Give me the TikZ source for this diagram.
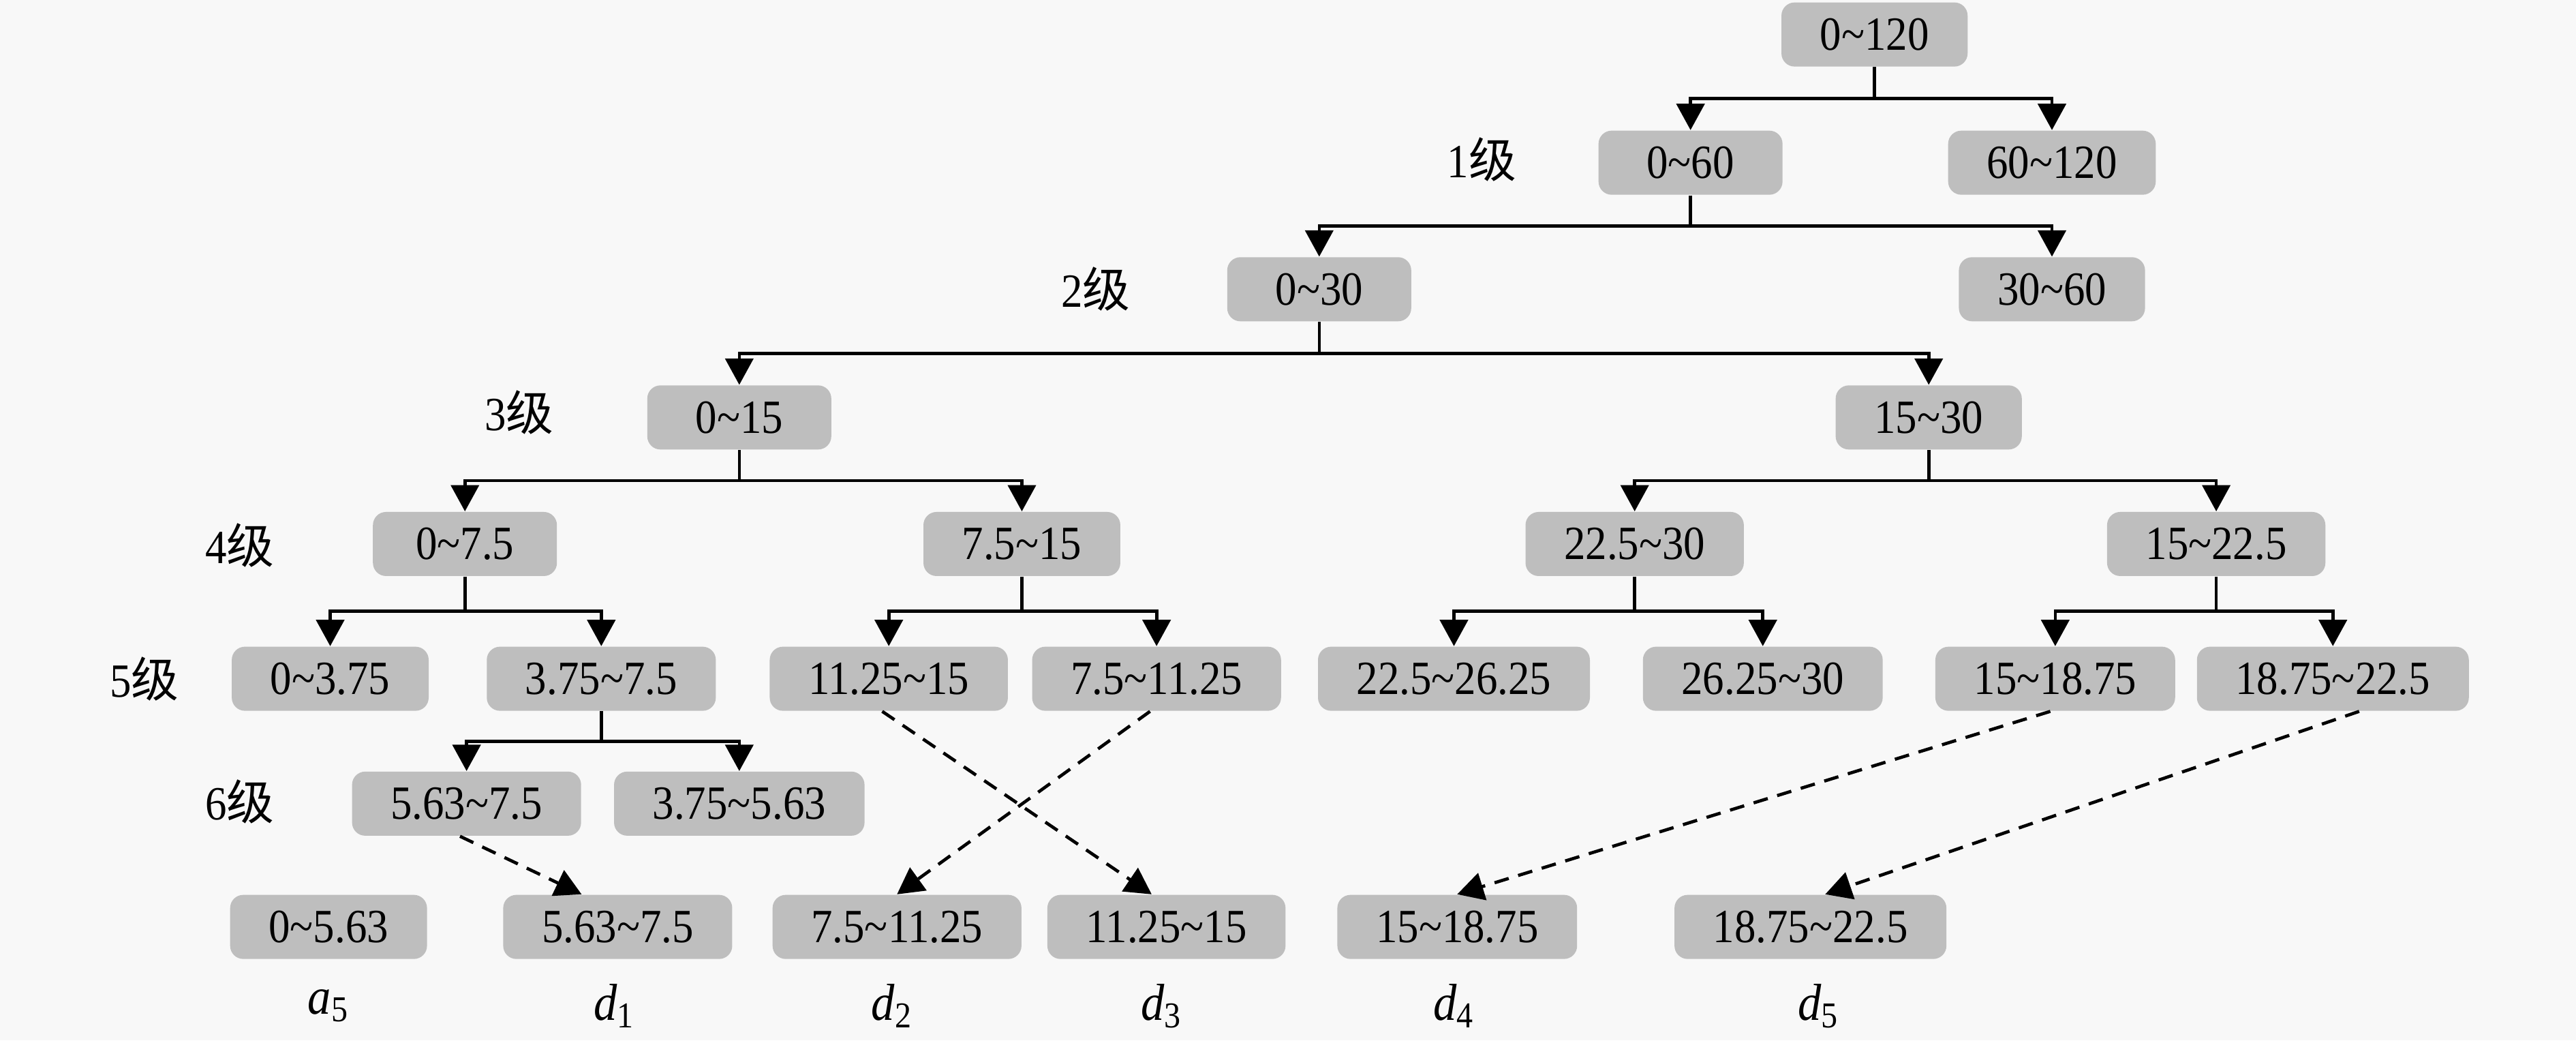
\documentclass[tikz,border=0pt]{standalone}
\usepackage{fontspec}
\setmainfont[FakeStretch=0.9]{Liberation Serif}
\newfontfamily\cjk{Noto Sans CJK SC}
\usepackage{tikz}
\usetikzlibrary{arrows.meta,calc,positioning}
\definecolor{bggray}{RGB}{248,248,248}
\definecolor{boxgray}{RGB}{190,190,190}
\newcommand{\tld}{\textasciitilde}

\begin{document}
\begin{tikzpicture}[
  font=\fontsize{16.5}{19}\selectfont,
  box/.style={fill=boxgray, rounded corners=0.16cm, minimum width=2.24cm,
    minimum height=0.78cm, inner xsep=0.47cm, inner ysep=0pt},
  lvl/.style={inner sep=0pt},
  sym/.style={font=\fontsize{18}{20}\selectfont},
  arr/.style={-{Triangle[length=0.32cm,width=0.34cm]}, line width=1.1pt},
  dsh/.style={arr, dash pattern=on 0.18cm off 0.12cm}
]
\fill[bggray] (0,0) rectangle (31.36,12.66);
\useasboundingbox (0,0) rectangle (31.36,12.66);

\node[box] (L0)  at (22.82,12.24) {0\tld120};
\node[box] (L1a) at (20.58,10.68) {0\tld60};
\node[box] (L1b) at (24.98,10.68) {60\tld120};
\node[box] (L2a) at (16.06,9.14) {0\tld30};
\node[box] (L2b) at (24.98,9.14) {30\tld60};
\node[box] (L3a) at (9.00,7.58) {0\tld15};
\node[box] (L3b) at (23.48,7.58) {15\tld30};
\node[box] (L4a) at (5.66,6.04) {0\tld7.5};
\node[box] (L4b) at (12.44,6.04) {7.5\tld15};
\node[box] (L4c) at (19.90,6.04) {22.5\tld30};
\node[box] (L4d) at (26.98,6.04) {15\tld22.5};
\node[box] (L5a) at (4.02,4.40) {0\tld3.75};
\node[box] (L5b) at (7.32,4.40) {3.75\tld7.5};
\node[box] (L5c) at (10.82,4.40) {11.25\tld15};
\node[box] (L5d) at (14.08,4.40) {7.5\tld11.25};
\node[box] (L5e) at (17.70,4.40) {22.5\tld26.25};
\node[box] (L5f) at (21.46,4.40) {26.25\tld30};
\node[box] (L5g) at (25.02,4.40) {15\tld18.75};
\node[box] (L5h) at (28.40,4.40) {18.75\tld22.5};
\node[box] (L6a) at (5.68,2.88) {5.63\tld7.5};
\node[box] (L6b) at (9.00,2.88) {3.75\tld5.63};
\node[box] (R0) at (4.00,1.38) {0\tld5.63};
\node[box] (R1) at (7.52,1.38) {5.63\tld7.5};
\node[box] (R2) at (10.92,1.38) {7.5\tld11.25};
\node[box] (R3) at (14.20,1.38) {11.25\tld15};
\node[box] (R4) at (17.74,1.38) {15\tld18.75};
\node[box] (R5) at (22.04,1.38) {18.75\tld22.5};

\node[lvl] (lv1) at (18.04,10.72) {1{\cjk 级}};
\node[lvl] (lv2) at (13.34,9.14) {2{\cjk 级}};
\node[lvl] (lv3) at (6.32,7.64) {3{\cjk 级}};
\node[lvl] (lv4) at (2.92,6.02) {4{\cjk 级}};
\node[lvl] (lv5) at (1.76,4.40) {5{\cjk 级}};
\node[lvl] (lv6) at (2.92,2.90) {6{\cjk 级}};

\node[sym] (la5) at (4.00,0.42) {\textit{a}\textsubscript{5}};
\node[sym] (ld1) at (7.48,0.42) {\textit{d}\textsubscript{1}};
\node[sym] (ld2) at (10.86,0.42) {\textit{d}\textsubscript{2}};
\node[sym] (ld3) at (14.14,0.42) {\textit{d}\textsubscript{3}};
\node[sym] (ld4) at (17.70,0.42) {\textit{d}\textsubscript{4}};
\node[sym] (ld5) at (22.14,0.42) {\textit{d}\textsubscript{5}};

\foreach \p/\c in {L0/L1a, L0/L1b, L1a/L2a, L1a/L2b, L2a/L3a, L2a/L3b,
    L3a/L4a, L3a/L4b, L3b/L4c, L3b/L4d, L4a/L5a, L4a/L5b, L4b/L5c, L4b/L5d,
    L4c/L5e, L4c/L5f, L4d/L5g, L4d/L5h, L5b/L6a, L5b/L6b}
  \draw[arr] (\p.south) |- ($(\p.south)!.5!(\c.north)$) -| (\c.north);

\draw[dsh] ([xshift=-0.08cm]L6a.south) -- ([xshift=-0.44cm]R1.north);
\draw[dsh] ([xshift=-0.08cm]L5c.south) -- ([xshift=-0.18cm]R3.north);
\draw[dsh] ([xshift=-0.08cm]L5d.south) -- (R2.north);
\draw[dsh] ([xshift=-0.06cm]L5g.south) -- (R4.north);
\draw[dsh] ([xshift=0.32cm]L5h.south) -- ([xshift=0.18cm]R5.north);
\end{tikzpicture}
\end{document}
